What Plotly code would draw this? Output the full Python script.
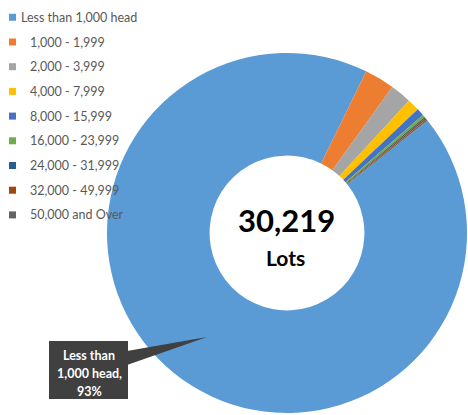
import plotly.graph_objects as go

W, H = 468, 415

categories = ["Less than 1,000 head", "1,000 - 1,999", "2,000 - 3,999", "4,000 - 7,999",
              "8,000 - 15,999", "16,000 - 23,999", "24,000 - 31,999", "32,000 - 49,999",
              "50,000 and Over"]
lots = [28104, 816, 574, 332, 202, 70, 36, 45, 40]
colors = ["#5B9BD5", "#ED7D31", "#A5A5A5", "#FFC000", "#4472C4",
          "#70AD47", "#255E91", "#9E480E", "#636363"]
center_label = "Lots"
callout_label = "Less than<br>1,000 head,"

total = sum(lots)
share = round(100 * lots[0] / total)

FONT = "Lato, 'Open Sans', sans-serif"

fig = go.Figure()
fig.add_trace(go.Pie(
    labels=categories, values=lots, sort=False, direction="clockwise",
    rotation=51.3, hole=0.43, textinfo="none", hoverinfo="label+value+percent",
    marker=dict(colors=colors, line=dict(width=0)),
    domain=dict(x=[(287 - 180) / W, (287 + 180) / W], y=[(182 - 180) / H, (182 + 180) / H]),
    showlegend=False,
))

def px(x):
    return x / W

def py(y):
    return 1 - y / H

shapes = []
annotations = []
# manual legend
for i, (lab, col) in enumerate(zip(categories, colors)):
    yc = 17.3 + 24.7 * i
    shapes.append(dict(type="rect", xref="paper", yref="paper",
                       x0=px(9), x1=px(16), y0=py(yc + 3.5), y1=py(yc - 3.5),
                       fillcolor=col, line=dict(width=0)))
    tx = 19 if i == 0 else 28
    annotations.append(dict(xref="paper", yref="paper", x=px(tx), y=py(yc),
                            xanchor="left", yanchor="middle", showarrow=False,
                            text=lab, font=dict(family=FONT, size=12.5, color="#595959")))

# center text
annotations.append(dict(xref="paper", yref="paper", x=px(286), y=py(220),
                        xanchor="center", yanchor="middle", showarrow=False,
                        text=f"<b>{total:,}</b>", font=dict(family=FONT, size=31, color="#000000")))
annotations.append(dict(xref="paper", yref="paper", x=px(285), y=py(257),
                        xanchor="center", yanchor="middle", showarrow=False,
                        text=f"<b>{center_label}</b>", font=dict(family=FONT, size=21, color="#000000")))

# callout box with pointer
shapes.append(dict(type="path", xref="paper", yref="paper",
                   path=f"M {px(127)},{py(351)} L {px(207)},{py(337)} L {px(127)},{py(365)} Z",
                   fillcolor="#404040", line=dict(width=0)))
shapes.append(dict(type="rect", xref="paper", yref="paper",
                   x0=px(49), x1=px(128), y0=py(399), y1=py(341),
                   fillcolor="#404040", line=dict(width=0)))
lines = callout_label.split("<br>") + [f"{share}%"]
for j, t in enumerate(lines):
    annotations.append(dict(xref="paper", yref="paper", x=px(89), y=py(355 + 18 * j),
                            xanchor="center", yanchor="middle", showarrow=False,
                            text=f"<b>{t}</b>", font=dict(family=FONT, size=12.5, color="#FFFFFF")))

fig.update_layout(
    width=W, height=H, margin=dict(l=0, r=0, t=0, b=0),
    paper_bgcolor="#FFFFFF", plot_bgcolor="#FFFFFF",
    shapes=shapes, annotations=annotations, showlegend=False,
)

fig.write_html("out.html", config={"displayModeBar": False},
               post_script="document.body.style.margin='0';document.body.style.padding='0';")
